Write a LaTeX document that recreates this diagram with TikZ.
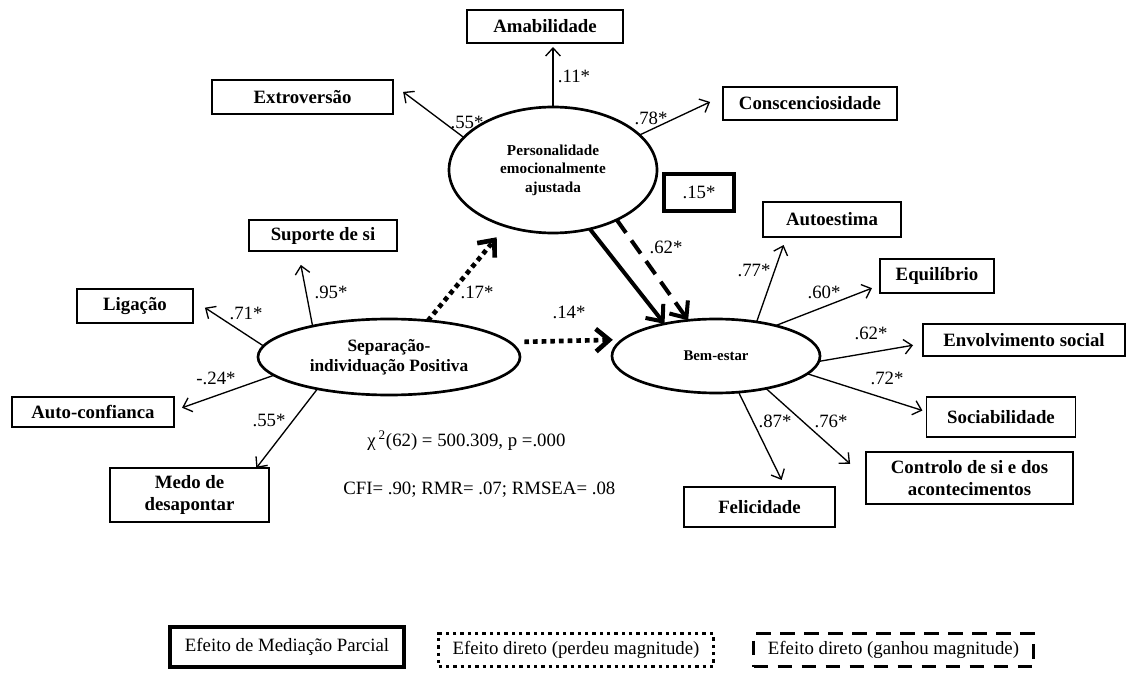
\documentclass[tikz,border=0pt]{standalone}
\usepackage{fontspec}
\setmainfont{Liberation Serif}
\usetikzlibrary{shapes.geometric,arrows.meta}

\begin{document}
\begin{tikzpicture}[x=0.75pt, y=-0.75pt,
        box/.style={draw, line width=0.8pt, inner sep=0pt, outer sep=0pt, align=center, font=\bfseries\fontsize{14.1}{16}\selectfont},
        latent/.style={draw, ellipse, line width=2pt, inner sep=0pt, outer sep=0pt, align=center},
        coef/.style={inner sep=0pt, font=\fontsize{14.1}{16}\selectfont},
        legbox/.style={draw, inner sep=0pt, outer sep=0pt, font=\fontsize{14.1}{16}\selectfont},
        meas/.style={line width=1pt, -{Straight Barb[length=6pt,width=11pt]}},
        medarrow/.style={line width=3pt, -{Straight Barb[length=10pt,width=17pt]}},
        dotline/.style={line width=3.5pt, dash pattern=on 3.5pt off 3pt},
        dashline/.style={dash pattern=on 12pt off 7pt}]
        \useasboundingbox (0,0) rectangle (1127,673);

        \node[latent, minimum width=156pt, minimum height=94.5pt, font=\bfseries\fontsize{11.4}{13.9}\selectfont] (pers) at (553,170) {Personalidade\\emocionalmente\\ajustada};
        \node[latent, minimum width=196.5pt, minimum height=57pt, font=\bfseries\fontsize{13}{15}\selectfont] (sepind) at (389,357) {Separação-\\individuação Positiva};
        \node[latent, minimum width=156pt, minimum height=55.5pt, font=\bfseries\fontsize{11.1}{13}\selectfont] (bem) at (716,356) {Bem-estar};

        \node[box, minimum width=117pt, minimum height=24.75pt] (amab) at (545,26.5) {Amabilidade};
        \node[box, minimum width=135.75pt, minimum height=25.5pt] (extro) at (302.5,97) {Extroversão};
        \node[box, minimum width=130.5pt, minimum height=24.75pt] (consc) at (810,103.5) {Conscenciosidade};
        \node[box, minimum width=111pt, minimum height=23.25pt] (suporte) at (323,235.5) {Suporte de si};
        \node[box, minimum width=87pt, minimum height=25.5pt] (ligacao) at (135,306) {Ligação};
        \node[box, minimum width=121.5pt, minimum height=22.5pt] (autoconf) at (93,412) {Auto-confianca};
        \node[box, minimum width=119.25pt, minimum height=40.5pt] (medo) at (189.5,495) {Medo de\\desapontar};
        \node[box, minimum width=103.5pt, minimum height=26.25pt] (autoest) at (832,219.5) {Autoestima};
        \node[box, minimum width=85.5pt, minimum height=25.5pt] (equil) at (937,276) {Equilíbrio};
        \node[box, minimum width=151.5pt, minimum height=24pt] (envolv) at (1024,340) {Envolvimento social};
        \node[box, minimum width=111.75pt, minimum height=30pt] (sociab) at (1001,417) {Sociabilidade};
        \node[box, minimum width=155.25pt, minimum height=39pt] (controlo) at (969.5,478) {Controlo de si e dos\\acontecimentos};
        \node[box, minimum width=113.25pt, minimum height=30pt] (felic) at (759.5,507) {Felicidade};

        \draw[meas, shorten >=3pt] (pers.north) -- (pers |- amab.south);
        \draw[meas, shorten >=9.5pt] (pers.160) -- (extro.8);
        \draw[meas, shorten >=10.7pt] (pers.22) -- (consc.175);
        \draw[meas, shorten >=10.6pt] (sepind.158) -- (suporte.212);
        \draw[meas, shorten >=10.7pt] (sepind.175) -- (ligacao.6);
        \draw[meas, shorten >=6.4pt] (sepind.189) -- (autoconf.1.5);
        \draw[meas] (sepind.204) -- (medo.22);
        \draw[meas, shorten >=6.4pt] (bem.40) -- (autoest.201);
        \draw[meas, shorten >=6.5pt] (bem.27) -- (equil.189);
        \draw[meas, shorten >=7.6pt] (bem.357) -- (envolv.182);
        \draw[meas, shorten >=3.2pt] (bem.349) -- (sociab.176);
        \draw[meas, shorten >=16pt] (bem.327) -- (controlo.west);
        \draw[meas, shorten >=5.9pt] (bem.302) -- (felic.38);

        \draw[medarrow] (pers.302) -- (bem.148);
        \draw[medarrow, dashline] (pers.322) -- (bem.128);
        \draw[medarrow, dotline, shorten >=10.8pt] (sepind.43) -- (pers.230);
        \draw[medarrow, dotline, shorten <=11pt, shorten >=7.5pt] (sepind.7) -- (bem.170);

        \node[coef] (c11) at (574,76) {.11*};
        \node[coef] (c55a) at (467,122) {.55*};
        \node[coef] (c78) at (651,118) {.78*};
        \node[coef] (c95) at (331,292) {.95*};
        \node[coef] (c71) at (246,313) {.71*};
        \node[coef] (c24) at (216,378) {-.24*};
        \node[coef] (c55b) at (269,420) {.55*};
        \node[coef] (c17) at (477,292) {.17*};
        \node[coef] (c14) at (569,312) {.14*};
        \node[coef] (c62a) at (666,247) {.62*};
        \node[coef] (c77) at (754,270) {.77*};
        \node[coef] (c60) at (824,292) {.60*};
        \node[coef] (c62b) at (871,333) {.62*};
        \node[coef] (c72) at (887,378) {.72*};
        \node[coef] (c87) at (775,421) {.87*};
        \node[coef] (c76) at (831,421) {.76*};
        \node[legbox, line width=3pt, minimum width=52.5pt, minimum height=27.75pt] (c15) at (699,192.5) {.15*};

        \node[coef, anchor=west] (chi) at (367,441) {χ\,\textsuperscript{2}(62) = 500.309, p =.000};
        \node[coef, anchor=west] (fitidx) at (343,490) {CFI= .90; RMR= .07; RMSEA= .08};

        \node[legbox, line width=3pt, minimum width=175.5pt, minimum height=30pt] (legmed) at (287,647) {Efeito de Mediação Parcial};
        \node[legbox, line width=2.5pt, dash pattern=on 2.5pt off 3pt, minimum width=206pt, minimum height=24.75pt] (legperd) at (576,650) {Efeito direto (perdeu magnitude)};
        \node[legbox, line width=2.5pt, dash pattern=on 11pt off 7pt, minimum width=210pt, minimum height=24.75pt] (leggan) at (893.5,650) {Efeito direto (ganhou magnitude)};
\end{tikzpicture}
\end{document}
